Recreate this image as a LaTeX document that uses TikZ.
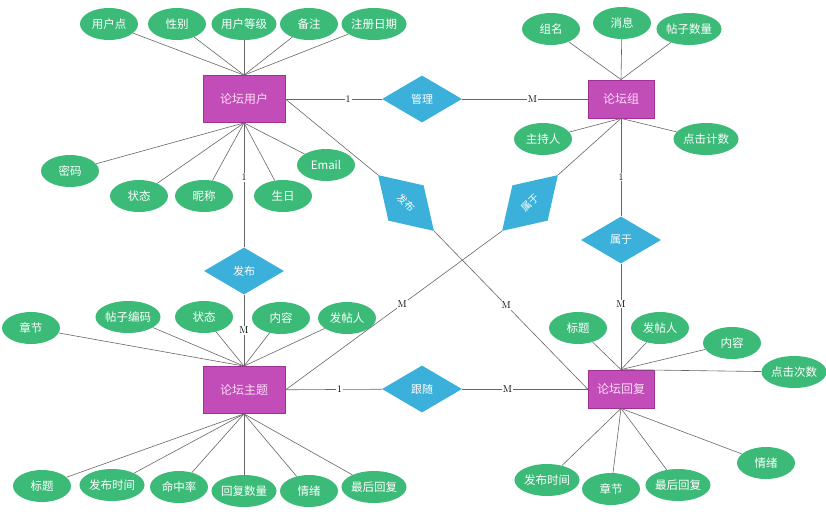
\documentclass[tikz,border=0pt]{standalone}
\usepackage{fontspec}
\newfontfamily\cjk{Noto Sans CJK SC}
\usetikzlibrary{shapes.geometric, positioning}
\definecolor{entfill}{RGB}{194,76,184}
\definecolor{entline}{RGB}{160,50,150}
\definecolor{enttext}{RGB}{252,222,246}
\definecolor{relfill}{RGB}{58,176,218}
\definecolor{attrfill}{RGB}{60,187,120}
\tikzset{
  entity/.style={rectangle, draw=entline, fill=entfill, line width=0.8pt,
                 minimum width=82pt, minimum height=47pt,
                 font=\cjk\fontsize{12}{14}\selectfont, text=enttext},
  smallentity/.style={entity, minimum width=66pt, minimum height=38pt},
  relation/.style={diamond, fill=relfill, aspect=1.7, inner sep=0pt,
                   minimum width=80pt, minimum height=47pt,
                   font=\cjk\fontsize{11}{13}\selectfont, text=white},
  slanted/.style={relation, aspect=1.58, minimum width=79pt, minimum height=50pt,
                  font=\cjk\fontsize{10}{12}\selectfont},
  attr/.style={ellipse, fill=attrfill, inner sep=0pt,
               minimum width=58pt, minimum height=32pt,
               font=\cjk\fontsize{11.5}{13}\selectfont, text=white},
  link/.style={draw=black!60, line width=0.6pt},
  card/.style={fill=white, inner sep=1pt, font=\normalsize},
}
\begin{document}
\begin{tikzpicture}[x=1pt, y=-1pt]
\useasboundingbox (0,0) rectangle (826,514);

% entities
\node[entity] (user) at (244,99) {论坛用户};
\node[smallentity] (group) at (621,99) {论坛组};
\node[entity] (topic) at (244,390) {论坛主题};
\node[smallentity] (reply) at (621,389) {论坛回复};

% relationships
\node[relation] (manage) at (422,99) {管理};
\node[relation] (postrel) at (244,271) {发布};
\node[relation] (follow) at (422,389) {跟随};
\node[relation] (belong) at (621,240) {属于};
\node[slanted, rotate=-45] (postdiag) at (406,203) {发布};
\node[slanted, rotate=45] (belongdiag) at (530,203) {属于};

% attributes
\foreach \side/\txt/\px/\py [count=\i] in {north/用户点/109/24, north/性别/177/24,
    north/用户等级/244/24, north/备注/309/24, north/注册日期/374/24,
    south/密码/70/171, south/状态/139/196, south/昵称/204/196,
    south/生日/283/196, south/Email/326/165} {
  \node[attr] (u\i) at (\px,\py) {\txt};
  \draw[link] (user.\side) -- (u\i);
}
\foreach \side/\txt/\px/\py [count=\i] in {north/组名/551/29, north/消息/622/23,
    north/帖子数量/689/29, south/主持人/543/139, south/点击计数/706/139} {
  \node[attr] (g\i) at (\px,\py) {\txt};
  \draw[link] (group.\side) -- (g\i);
}
\foreach \side/\txt/\px/\py [count=\i] in {north/章节/31/328, north/帖子编码/128/317,
    north/状态/204/317, north/内容/281/318, north/发帖人/347/318,
    south/标题/42/486, south/发布时间/112/485, south/命中率/179/487,
    south/回复数量/244/491, south/情绪/309/491, south/最后回复/374/487} {
  \node[attr] (t\i) at (\px,\py) {\txt};
  \draw[link] (topic.\side) -- (t\i);
}
\foreach \side/\txt/\px/\py [count=\i] in {north/标题/578/328, north/发帖人/660/328,
    north/内容/732/343, north/点击次数/794/372, south/发布时间/547/480,
    south/章节/611/489, south/最后回复/678/485, south/情绪/766/463} {
  \node[attr] (r\i) at (\px,\py) {\txt};
  \draw[link] (reply.\side) -- (r\i);
}

% relationship links
\draw[link] (user) -- node[card, pos=0.65] {1} (manage);
\draw[link] (manage) -- node[card, pos=0.56] {M} (group);
\draw[link] (user) -- node[card, pos=0.44] {1} (postrel);
\draw[link] (postrel) -- node[card, pos=0.5] {M} (topic);
\draw[link] (topic) -- node[card, pos=0.56] {1} (follow);
\draw[link] (follow) -- node[card, pos=0.36] {M} (reply);
\draw[link] (group) -- node[card, pos=0.6] {1} (belong);
\draw[link] (belong) -- node[card, pos=0.38] {M} (reply);
\draw[link] (user.east) -- (postdiag.west);
\draw[link] (postdiag.east) -- node[card, pos=0.47] {M} (reply.west);
\draw[link] (group.south) -- (belongdiag.east);
\draw[link] (belongdiag.west) -- node[card, pos=0.46] {M} (topic.east);
\end{tikzpicture}
\end{document}
